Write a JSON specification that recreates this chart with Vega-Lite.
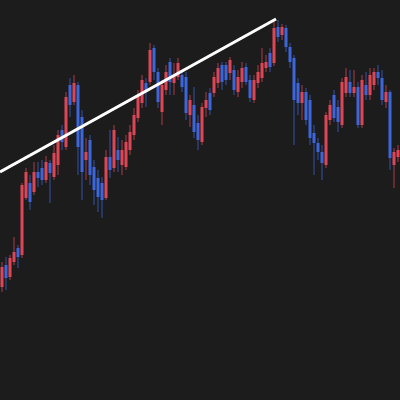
{
  "$schema": "https://vega.github.io/schema/vega-lite/v6.json",
  "autosize": {"type": "none"},
  "width": 400,
  "height": 400,
  "padding": 0,
  "background": "#1c1c1c",
  "config": {"view": {"stroke": null}, "scale": {"continuousPadding": 0}},
  "datasets": {
    "candles": [
      {"t":0,"open":113,"high":138,"low":108,"close":133},
      {"t":1,"open":135,"high":143,"low":110,"close":122},
      {"t":2,"open":123,"high":145,"low":120,"close":142},
      {"t":3,"open":138,"high":163,"low":135,"close":148},
      {"t":4,"open":152,"high":155,"low":132,"close":143},
      {"t":5,"open":145,"high":217,"low":142,"close":215},
      {"t":6,"open":202,"high":232,"low":200,"close":228},
      {"t":7,"open":217,"high":225,"low":190,"close":198},
      {"t":8,"open":208,"high":238,"low":205,"close":228},
      {"t":9,"open":228,"high":238,"low":213,"close":222},
      {"t":10,"open":232,"high":240,"low":215,"close":220},
      {"t":11,"open":220,"high":244,"low":217,"close":238},
      {"t":12,"open":237,"high":240,"low":197,"close":227},
      {"t":13,"open":223,"high":255,"low":220,"close":247},
      {"t":14,"open":235,"high":270,"low":225,"close":265},
      {"t":15,"open":270,"high":275,"low":250,"close":258},
      {"t":16,"open":253,"high":308,"low":250,"close":303},
      {"t":17,"open":315,"high":322,"low":283,"close":295},
      {"t":18,"open":298,"high":325,"low":295,"close":317},
      {"t":19,"open":315,"high":318,"low":225,"close":253},
      {"t":20,"open":283,"high":290,"low":200,"close":228},
      {"t":21,"open":240,"high":262,"low":220,"close":248},
      {"t":22,"open":260,"high":265,"low":215,"close":225},
      {"t":23,"open":233,"high":240,"low":195,"close":210},
      {"t":24,"open":222,"high":230,"low":188,"close":203},
      {"t":25,"open":217,"high":223,"low":182,"close":200},
      {"t":26,"open":202,"high":250,"low":200,"close":243},
      {"t":27,"open":243,"high":270,"low":222,"close":230},
      {"t":28,"open":232,"high":275,"low":228,"close":270},
      {"t":29,"open":250,"high":263,"low":228,"close":240},
      {"t":30,"open":235,"high":260,"low":225,"close":250},
      {"t":31,"open":233,"high":265,"low":230,"close":258},
      {"t":32,"open":250,"high":275,"low":245,"close":268},
      {"t":33,"open":265,"high":292,"low":260,"close":285},
      {"t":34,"open":282,"high":310,"low":278,"close":305},
      {"t":35,"open":297,"high":325,"low":292,"close":320},
      {"t":36,"open":317,"high":322,"low":293,"close":308},
      {"t":37,"open":318,"high":357,"low":315,"close":350},
      {"t":38,"open":352,"high":355,"low":320,"close":328},
      {"t":39,"open":328,"high":332,"low":292,"close":298},
      {"t":40,"open":288,"high":320,"low":275,"close":315},
      {"t":41,"open":310,"high":335,"low":305,"close":328},
      {"t":42,"open":338,"high":342,"low":305,"close":318},
      {"t":43,"open":317,"high":337,"low":305,"close":325},
      {"t":44,"open":323,"high":342,"low":320,"close":337},
      {"t":45,"open":325,"high":330,"low":308,"close":313},
      {"t":46,"open":323,"high":328,"low":280,"close":287},
      {"t":47,"open":285,"high":305,"low":273,"close":300},
      {"t":48,"open":295,"high":313,"low":262,"close":268},
      {"t":49,"open":277,"high":285,"low":250,"close":260},
      {"t":50,"open":258,"high":297,"low":255,"close":293},
      {"t":51,"open":292,"high":308,"low":283,"close":300},
      {"t":52,"open":307,"high":312,"low":285,"close":290},
      {"t":53,"open":307,"high":328,"low":303,"close":323},
      {"t":54,"open":317,"high":337,"low":312,"close":332},
      {"t":55,"open":335,"high":338,"low":310,"close":318},
      {"t":56,"open":335,"high":338,"low":315,"close":320},
      {"t":57,"open":327,"high":343,"low":320,"close":340},
      {"t":58,"open":330,"high":335,"low":305,"close":310},
      {"t":59,"open":308,"high":330,"low":303,"close":323},
      {"t":60,"open":318,"high":338,"low":312,"close":332},
      {"t":61,"open":333,"high":337,"low":315,"close":318},
      {"t":62,"open":320,"high":325,"low":298,"close":302},
      {"t":63,"open":300,"high":325,"low":297,"close":320},
      {"t":64,"open":317,"high":335,"low":312,"close":328},
      {"t":65,"open":322,"high":352,"low":318,"close":337},
      {"t":66,"open":332,"high":345,"low":328,"close":338},
      {"t":67,"open":347,"high":352,"low":328,"close":333},
      {"t":68,"open":337,"high":378,"low":334,"close":372},
      {"t":69,"open":373,"high":380,"low":358,"close":363},
      {"t":70,"open":365,"high":376,"low":360,"close":373},
      {"t":71,"open":372,"high":375,"low":348,"close":353},
      {"t":72,"open":353,"high":357,"low":332,"close":338},
      {"t":73,"open":342,"high":345,"low":255,"close":300},
      {"t":74,"open":317,"high":322,"low":285,"close":297},
      {"t":75,"open":297,"high":315,"low":280,"close":308},
      {"t":76,"open":308,"high":312,"low":275,"close":280},
      {"t":77,"open":300,"high":305,"low":255,"close":262},
      {"t":78,"open":267,"high":275,"low":225,"close":257},
      {"t":79,"open":257,"high":262,"low":240,"close":248},
      {"t":80,"open":248,"high":255,"low":220,"close":237},
      {"t":81,"open":235,"high":288,"low":232,"close":285},
      {"t":82,"open":280,"high":300,"low":275,"close":295},
      {"t":83,"open":305,"high":310,"low":278,"close":282},
      {"t":84,"open":293,"high":300,"low":268,"close":278},
      {"t":85,"open":275,"high":322,"low":272,"close":318},
      {"t":86,"open":307,"high":332,"low":303,"close":323},
      {"t":87,"open":318,"high":330,"low":303,"close":307},
      {"t":88,"open":307,"high":330,"low":303,"close":313},
      {"t":89,"open":313,"high":318,"low":272,"close":275},
      {"t":90,"open":275,"high":325,"low":272,"close":320},
      {"t":91,"open":315,"high":328,"low":300,"close":305},
      {"t":92,"open":305,"high":332,"low":300,"close":325},
      {"t":93,"open":315,"high":332,"low":310,"close":328},
      {"t":94,"open":328,"high":335,"low":315,"close":322},
      {"t":95,"open":322,"high":330,"low":295,"close":300},
      {"t":96,"open":298,"high":315,"low":292,"close":308},
      {"t":97,"open":308,"high":310,"low":230,"close":242},
      {"t":98,"open":235,"high":252,"low":212,"close":248},
      {"t":99,"open":243,"high":255,"low":238,"close":250}
    ],
    "trend": [
      {"t": -0.5, "price": 228},
      {"t": 68.5, "price": 381}
    ]
  },
  "layer": [
    {
      "data": {"name": "candles"},
      "mark": {"type": "rule", "strokeWidth": 1, "opacity": 0.75},
      "encoding": {
        "x": {"field": "t", "type": "quantitative", "scale": {"domain": [-0.5, 99.5], "nice": false, "zero": false, "padding": 0}, "axis": null},
        "y": {"field": "low", "type": "quantitative", "scale": {"domain": [0, 400], "nice": false, "zero": false, "padding": 0}, "axis": null},
        "y2": {"field": "high"},
        "color": {"condition": {"test": "datum.close > datum.open", "value": "#de4655"}, "value": "#3c66dc"}
      }
    },
    {
      "data": {"name": "candles"},
      "mark": {"type": "bar", "size": 3},
      "encoding": {
        "x": {"field": "t", "type": "quantitative", "scale": {"domain": [-0.5, 99.5], "nice": false, "zero": false, "padding": 0}, "axis": null},
        "y": {"field": "open", "type": "quantitative", "scale": {"domain": [0, 400], "nice": false, "zero": false, "padding": 0}, "axis": null},
        "y2": {"field": "close"},
        "color": {"condition": {"test": "datum.close > datum.open", "value": "#de4655"}, "value": "#3c66dc"}
      }
    },
    {
      "data": {"name": "trend"},
      "mark": {"type": "line", "color": "#ffffff", "strokeWidth": 3},
      "encoding": {
        "x": {"field": "t", "type": "quantitative", "scale": {"domain": [-0.5, 99.5], "nice": false, "zero": false, "padding": 0}, "axis": null},
        "y": {"field": "price", "type": "quantitative", "scale": {"domain": [0, 400], "nice": false, "zero": false, "padding": 0}, "axis": null}
      }
    }
  ]
}
